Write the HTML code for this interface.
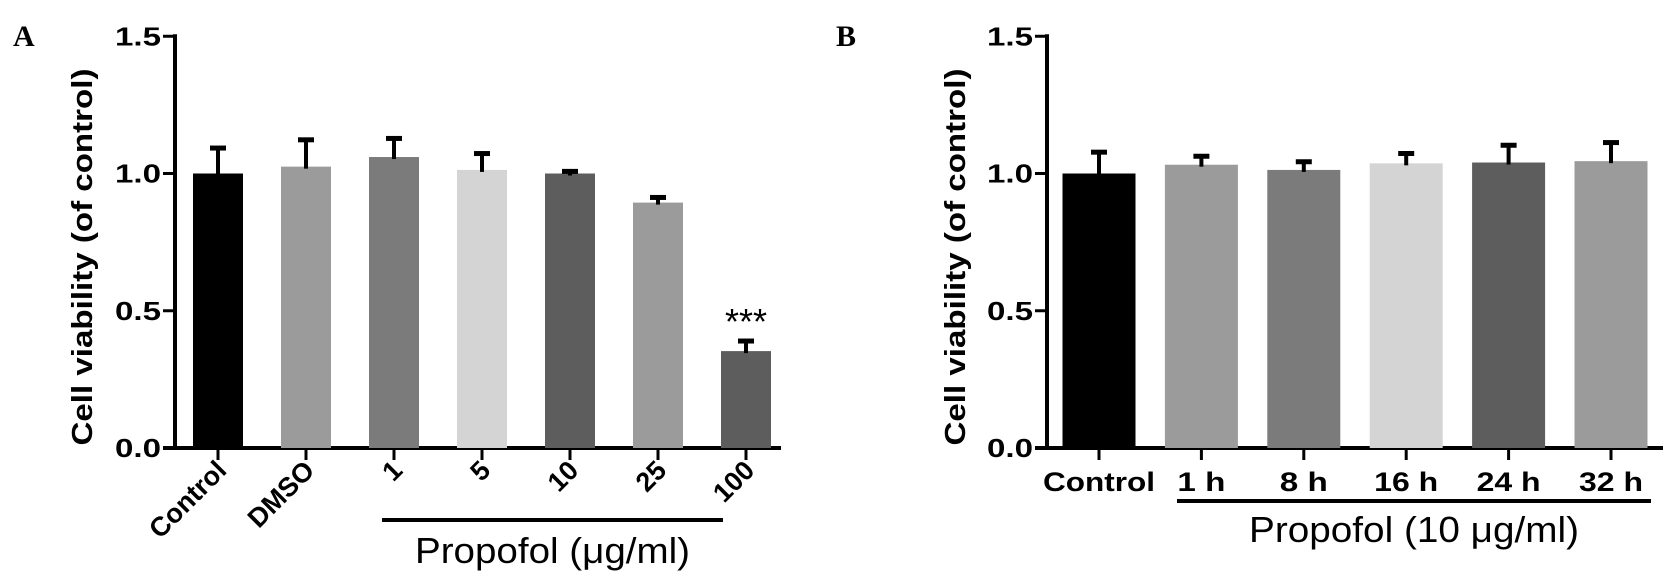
<!DOCTYPE html>
<html><head><meta charset="utf-8"><style>
html,body{margin:0;padding:0;background:#fff;}
svg{display:block;}
text{font-family:"Liberation Sans",Arial,sans-serif;}
</style></head><body>
<svg id="fig" width="1680" height="583" viewBox="0 0 1680 583">
<text x="13" y="46" font-weight="bold" font-size="30" style="font-family:'Liberation Serif',serif">A</text>
<text x="836" y="46" font-weight="bold" font-size="30" style="font-family:'Liberation Serif',serif">B</text>
<g id="chartA"></g>
<g id="chartB"></g>
</svg>
<script>
const catsA = ["Control","DMSO","1","5","10","25","100"];
const valsA = [1.0, 1.025, 1.06, 1.013, 1.0, 0.894, 0.353];
const errsA = [1.10, 1.13, 1.135, 1.08, 1.015, 0.92, 0.397];
const colorsA = ["#000000","#9b9b9b","#7b7b7b","#d4d4d4","#5d5d5d","#9b9b9b","#5d5d5d"];
const catsB = ["Control","1 h","8 h","16 h","24 h","32 h"];
const valsB = [1.0, 1.032, 1.013, 1.037, 1.04, 1.045];
const errsB = [1.085, 1.07, 1.05, 1.08, 1.11, 1.12];
const colorsB = ["#000000","#9b9b9b","#7b7b7b","#d4d4d4","#5d5d5d","#9b9b9b"];
const yTicks = [0, 0.5, 1.0, 1.5];
const yTickLabels = ["0.0","0.5","1.0","1.5"];

const NS="http://www.w3.org/2000/svg";
function mk(parent,tag,attrs,text){const e=document.createElementNS(NS,tag);for(const k in attrs)e.setAttribute(k,attrs[k]);if(text!==undefined)e.textContent=text;parent.appendChild(e);return e;}
const y0=448, ppu=274.5;
function yScale(v){return y0-v*ppu;}

function drawChart(g,o){
  const xScale=i=>o.firstC+i*o.step;
  let e=mk(g,'line',{x1:o.ax,y1:yScale(1.5)-2,x2:o.ax,y2:y0+2,stroke:'#000','stroke-width':4});
  
  e=mk(g,'line',{x1:o.ax-12,y1:y0,x2:o.axEnd,y2:y0,stroke:'#000','stroke-width':4});
  
  yTicks.forEach((t,i)=>{
    const yy=yScale(t);
    let l=mk(g,'line',{x1:o.ax-12,y1:yy,x2:o.ax,y2:yy,stroke:'#000','stroke-width':3});
    
    let tx=mk(g,'text',{x:o.ax-14,y:yy+9,'text-anchor':'end','font-size':26,'font-weight':'bold',textLength:46,lengthAdjust:'spacingAndGlyphs'},yTickLabels[i]);
    
  });
  let yt=mk(g,'text',{x:0,y:0,transform:`translate(${o.titleX},257) rotate(-90)`,'text-anchor':'middle','font-size':29,'font-weight':'bold',textLength:377,lengthAdjust:'spacingAndGlyphs'},'Cell viability (of control)');
  
  o.cats.forEach((c,i)=>{
    const cx=xScale(i);
    const top=yScale(o.vals[i]);
    let r=mk(g,'rect',{x:cx-o.bw/2,y:top,width:o.bw,height:y0-top,fill:o.colors[i]});
    
    const et=yScale(o.errs[i]);
    let s=mk(g,'line',{x1:cx,y1:top+2,x2:cx,y2:et,stroke:'#000','stroke-width':4});
    
    let cp=mk(g,'line',{x1:cx-8,y1:et+2,x2:cx+8,y2:et+2,stroke:'#000','stroke-width':5});
    
    let tk=mk(g,'line',{x1:cx,y1:y0,x2:cx,y2:y0+12,stroke:'#000','stroke-width':3});
    
    let lb;
    if(o.rot){
      lb=mk(g,'text',{x:0,y:0,transform:`translate(${cx+10},${y0+24}) rotate(-45)`,'text-anchor':'end','font-size':27,'font-weight':'bold'},c);
    } else {
      lb=mk(g,'text',{x:cx,y:491,'text-anchor':'middle','font-size':27,'font-weight':'bold',textLength:c.length*16,lengthAdjust:'spacingAndGlyphs'},c);
    }
    
  });
  let bl=mk(g,'line',{x1:o.lineX1,y1:o.lineY,x2:o.lineX2,y2:o.lineY,stroke:'#000','stroke-width':4});
  
  let gt=mk(g,'text',{x:(o.lineX1+o.lineX2)/2,y:o.groupY,'text-anchor':'middle','font-size':36,textLength:o.groupW,lengthAdjust:'spacingAndGlyphs'},o.groupLabel);
  
}
const gA=document.getElementById('chartA');
drawChart(gA,{cats:catsA,vals:valsA,errs:errsA,colors:colorsA,ax:175,axEnd:781,firstC:218,step:88,bw:50,rot:true,titleX:92,lineX1:382,lineX2:723,lineY:520,groupY:563,groupW:275,groupLabel:'Propofol (μg/ml)'});
const st=mk(gA,'text',{x:746,y:334,'text-anchor':'middle','font-size':36},'***');


const gB=document.getElementById('chartB');
drawChart(gB,{cats:catsB,vals:valsB,errs:errsB,colors:colorsB,ax:1047,axEnd:1663,firstC:1099,step:102.4,bw:73,rot:false,titleX:965,lineX1:1177,lineX2:1651,lineY:501,groupY:542,groupW:330,groupLabel:'Propofol (10 μg/ml)'});
</script>
</body></html>
